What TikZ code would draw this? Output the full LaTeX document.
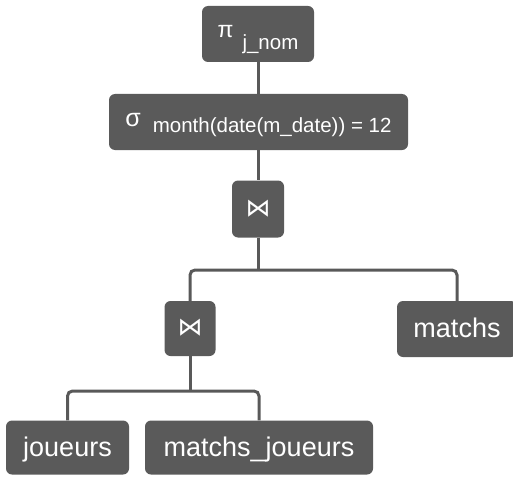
\documentclass[tikz,border=0pt]{standalone}
\usepackage{fontspec}
\setmainfont{Liberation Sans}
\newfontfamily\symfont{DejaVu Sans}
\definecolor{boxgray}{HTML}{5A5A5A}
\definecolor{linegray}{HTML}{595959}
\begin{document}
\begin{tikzpicture}[x=1pt,y=-1pt,
  opbox/.style={fill=boxgray, rounded corners=6pt, text=white, inner sep=0pt,
                minimum height=56pt},
  leaf/.style={opbox, font=\fontsize{27}{27}\selectfont, text height=17pt, text depth=0pt},
  joinop/.style={opbox, minimum width=52pt, minimum height=57pt,
                 font=\symfont\fontsize{25}{25}\selectfont, text height=14pt, text depth=0pt},
  link/.style={draw=linegray, line width=3pt, rounded corners=5pt}
]
\clip (0,0) rectangle (513,476);

% operator nodes
\node[opbox, minimum width=112pt, text height=8pt, text depth=0pt] (proj) at (258,34)
  {\fontsize{23}{23}\selectfont π\hspace{9pt}\raisebox{-12pt}{\fontsize{20.5}{20.5}\selectfont j\_nom}};
\node[opbox, minimum width=299pt, text height=8pt, text depth=0pt] (sel) at (258.5,122)
  {\fontsize{25}{25}\selectfont σ\hspace{12pt}\raisebox{-6pt}{\fontsize{20.5}{20.5}\selectfont month(date(m\_date)) = 12}};
\node[joinop] (j1) at (258,209) {⋈};
\node[joinop, minimum width=51pt, minimum height=55pt] (j2) at (190,328.5) {⋈};

% relations
\node[leaf, minimum width=120pt] (m) at (457,329) {matchs};
\node[leaf, minimum width=123pt, minimum height=54pt] (jo) at (67.5,447.5) {joueurs};
\node[leaf, minimum width=228pt, minimum height=54pt] (mj) at (259,447.5) {matchs\_joueurs};

% bus levels
\coordinate (b1) at (0,270);
\coordinate (b2) at (0,391);

% connectors
\draw[link] (proj.south) -- (proj.south |- sel.north);
\draw[link] (j1.north |- sel.south) -- (j1.north);
\draw[link] (j1.south) -- (j1.south |- b1);
\draw[link] (j2.north) -- (j2.north |- b1) -- (m.north |- b1) -- (m.north);
\draw[link] (j2.south) -- (j2.south |- b2);
\draw[link] (jo.north) -- (jo.north |- b2) -- (mj.north |- b2) -- (mj.north);
\end{tikzpicture}
\end{document}
